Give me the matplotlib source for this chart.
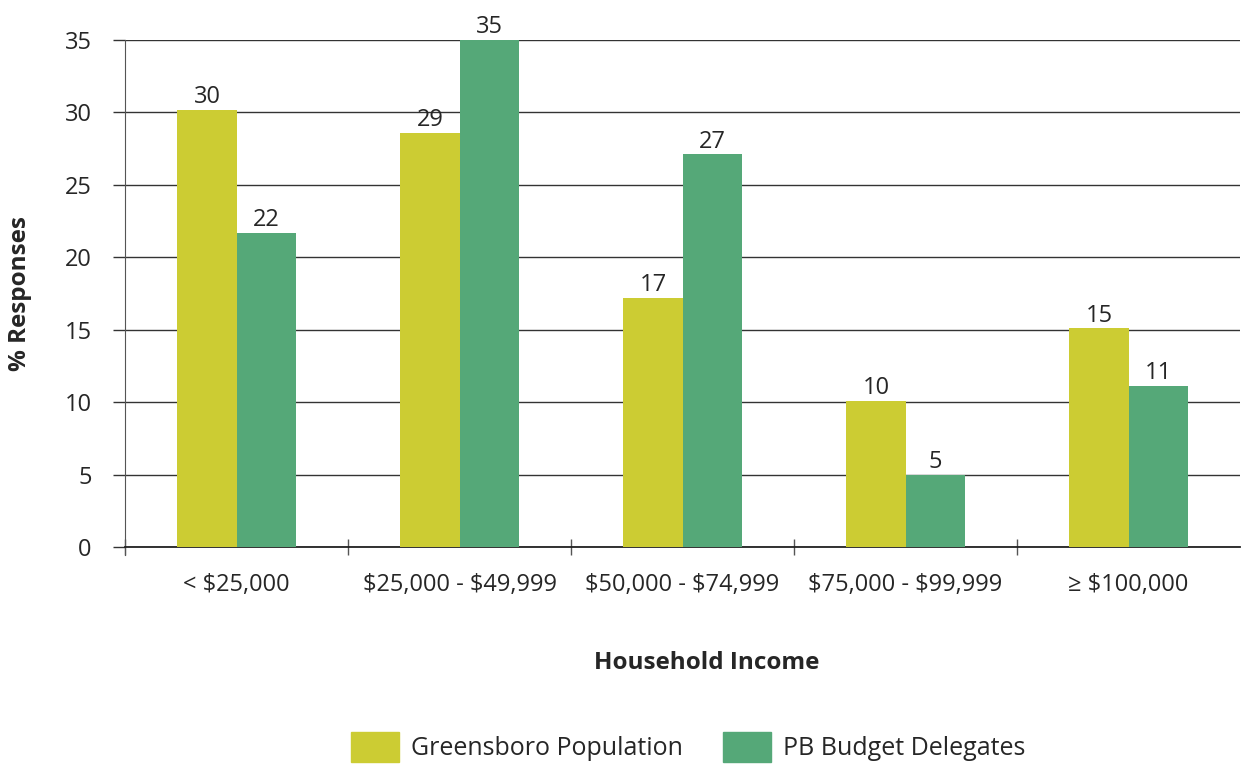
import numpy as np
import matplotlib
matplotlib.use('Agg')
import matplotlib.pyplot as plt
from matplotlib.patches import Patch

plt.rcParams['font.family'] = ['Open Sans', 'DejaVu Sans']
plt.rcParams['text.parse_math'] = False

categories = ['< $25,000', '$25,000 - $49,999', '$50,000 - $74,999',
              '$75,000 - $99,999', '\u2265 $100,000']
greensboro = [30.2, 28.6, 17.2, 10.1, 15.1]
delegates = [21.7, 35.0, 27.1, 5.0, 11.1]
greensboro_labels = [30, 29, 17, 10, 15]
delegates_labels = [22, 35, 27, 5, 11]

c_yellow = '#CCCC33'
c_green = '#55A878'
text_c = '#262626'

fig = plt.figure(figsize=(12.45, 7.66), dpi=100)
ax = fig.add_axes([0.1004, 0.2859, 0.8956, 0.6619])

x = np.arange(len(categories))
w = 0.265
b1 = ax.bar(x - w / 2, greensboro, w, color=c_yellow, zorder=3)
b2 = ax.bar(x + w / 2, delegates, w, color=c_green, zorder=3)

for bars, labs in ((b1, greensboro_labels), (b2, delegates_labels)):
    for r, lab in zip(bars, labs):
        ax.text(r.get_x() + r.get_width() / 2, r.get_height() + 0.05, str(lab),
                ha='center', va='bottom', fontsize=17, color=text_c, zorder=4)

ax.set_xlim(-0.5, len(categories) - 0.5)
ax.set_ylim(0, 35)
ax.set_yticks(range(0, 36, 5))
ax.yaxis.grid(True, color='#333333', linewidth=1.0, zorder=0)
ax.tick_params(axis='y', length=9, width=1.0, color='#333333', labelsize=17,
               labelcolor=text_c, pad=15)

ax.set_xticks(x)
ax.set_xticklabels(categories)
ax.set_xticks(np.arange(-0.5, len(categories) - 1), minor=True)
ax.tick_params(axis='x', which='major', length=0, labelsize=17,
               labelcolor=text_c, pad=19)
ax.tick_params(axis='x', which='minor', length=11, width=1.0, color='#555555',
               direction='inout')

for s in ['top', 'right']:
    ax.spines[s].set_visible(False)
ax.spines['left'].set_color('#555555')
ax.spines['left'].set_bounds(-0.55, 35)
ax.spines['bottom'].set_color('#222222')
ax.spines['bottom'].set_linewidth(1.3)

ax.set_ylabel('% Responses', fontsize=17.5, fontweight='bold', color=text_c)
ax.yaxis.set_label_coords(-0.083, 0.5)
fig.text(0.5675, 0.135, 'Household Income', ha='center', va='center',
         fontsize=17.5, fontweight='bold', color=text_c)

handles = [Patch(color=c_yellow), Patch(color=c_green)]
fig.legend(handles, ['Greensboro Population', 'PB Budget Delegates'],
           loc='center', bbox_to_anchor=(0.553, 0.025), ncol=2, frameon=False,
           fontsize=18, handlelength=1.92, handleheight=1.5, columnspacing=1.6,
           handletextpad=0.48, labelcolor=text_c)

fig.savefig('out.png', dpi=100)
